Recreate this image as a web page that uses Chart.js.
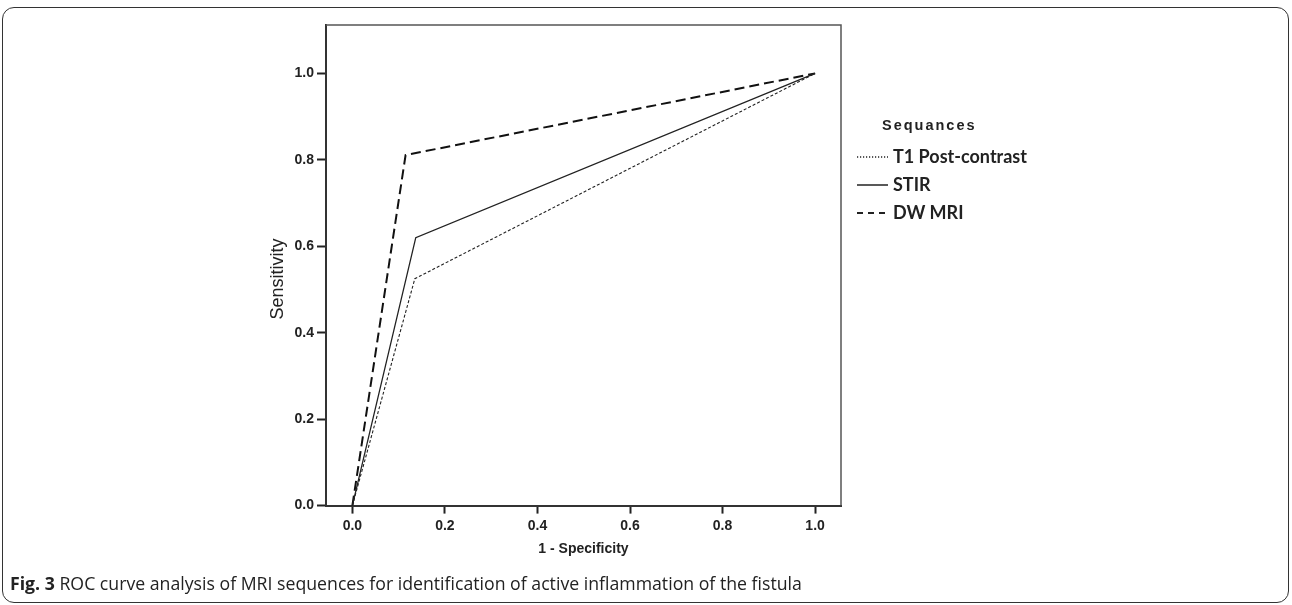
<!DOCTYPE html>
<html>
<head>
<meta charset="utf-8">
<script src="https://cdn.jsdelivr.net/npm/chart.js@4/dist/chart.umd.min.js"></script>
<style>
  html, body { margin: 0; padding: 0; background: #fff; }
  #wrap { position: relative; width: 1292px; height: 605px; overflow: hidden; background: #fff; }
  #frame { position: absolute; left: 2px; top: 7px; width: 1285px; height: 594px; border: 1.5px solid #333; border-radius: 12px; }
  canvas { position: absolute; left: 0; top: 0; }
  #legend { position: absolute; left: 857px; top: 112px; font-family: Lato, "Open Sans", sans-serif; color: #222; }
  #legend .title { position: absolute; left: 25px; top: 0; font: bold 14.5px "Liberation Sans", Arial, sans-serif; letter-spacing: 2px; white-space: nowrap; line-height: 26px; }
  #legend .item { position: absolute; left: 0; white-space: nowrap; font-weight: bold; font-size: 18px; line-height: 20px; height: 20px; }
  #legend .item svg { display: inline-block; vertical-align: middle; margin-right: 5px; position: relative; top: -1px; }
  #caption { position: absolute; left: 10px; top: 571px; font-family: "Open Sans", "Noto Sans", sans-serif; font-size: 17.7px; line-height: 24px; color: #222; white-space: nowrap; }
</style>
</head>
<body>
<div id="wrap">
  <div id="frame"></div>
  <canvas id="c" width="1292" height="605"></canvas>
  <div id="legend"></div>
  <div id="caption"><b>Fig. 3</b> ROC curve analysis of MRI sequences for identification of active inflammation of the fistula</div>
</div>
<script>
// ---- data ----
const seriesNames = ["T1 Post-contrast", "STIR", "DW MRI"];
const t1X = [0, 0.135, 1];
const t1Y = [0, 0.525, 1];
const stirX = [0, 0.137, 1];
const stirY = [0, 0.62, 1];
const dwX = [0, 0.115, 1];
const dwY = [0, 0.811, 1];
const tickValues = [0, 0.2, 0.4, 0.6, 0.8, 1.0];
const xTitle = "1 - Specificity";
const yTitle = "Sensitivity";
const legendTitle = "Sequances";

const pts = (xs, ys) => xs.map((x, i) => ({ x: x, y: ys[i] }));
const styles = [
  { borderColor: '#222', borderWidth: 1.1, borderDash: [3, 2] },
  { borderColor: '#222', borderWidth: 1.3, borderDash: [] },
  { borderColor: '#111', borderWidth: 2, borderDash: [10, 5] }
];
const series = [pts(t1X, t1Y), pts(stirX, stirY), pts(dwX, dwY)];

const framePlugin = {
  id: 'frameLines',
  afterDraw(chart) {
    const { ctx, chartArea: a } = chart;
    ctx.save();
    ctx.strokeStyle = '#555';
    ctx.lineWidth = 1.5;
    ctx.beginPath();
    ctx.moveTo(a.left, a.top);
    ctx.lineTo(a.right, a.top);
    ctx.lineTo(a.right, a.bottom);
    ctx.stroke();
    // y-axis title (SPSS places it slightly below the axis centre)
    ctx.translate(278, 279);
    ctx.rotate(-Math.PI / 2);
    ctx.fillStyle = '#222';
    ctx.font = '18px "Liberation Sans", Arial, sans-serif';
    ctx.textAlign = 'center';
    ctx.textBaseline = 'middle';
    ctx.fillText(yTitle, 0, 0);
    ctx.restore();
  }
};

const tickFont = { family: '"Liberation Sans", Arial, sans-serif', size: 14, weight: 'bold' };

new Chart(document.getElementById('c'), {
  type: 'scatter',
  data: {
    datasets: series.map((d, i) => Object.assign({
      label: seriesNames[i],
      data: d,
      showLine: true,
      fill: false,
      pointRadius: 0,
      pointHoverRadius: 0,
      tension: 0
    }, styles[i]))
  },
  options: {
    responsive: false,
    devicePixelRatio: 1,
    animation: false,
    layout: { padding: { left: 226, top: 25, right: 451, bottom: 0 } },
    plugins: { legend: { display: false }, tooltip: { enabled: false } },
    scales: {
      x: {
        type: 'linear',
        min: -0.057,
        max: 1.056,
        afterBuildTicks: s => { s.ticks = tickValues.map(v => ({ value: v })); },
        afterFit: s => { s.height = 99.4; },
        ticks: { font: tickFont, color: '#222', padding: 4, callback: v => v.toFixed(1), maxRotation: 0 },
        grid: { drawOnChartArea: false, drawTicks: true, tickLength: 8, tickWidth: 2, tickColor: '#222' },
        border: { color: '#333', width: 2 },
        title: { display: true, text: xTitle, color: '#222', font: { family: '"Liberation Sans", Arial, sans-serif', size: 14, weight: 'bold' }, padding: { top: 0, bottom: 47 } }
      },
      y: {
        type: 'linear',
        min: 0,
        max: 1.112,
        afterBuildTicks: s => { s.ticks = tickValues.map(v => ({ value: v })); },
        afterFit: s => { s.width = 100; },
        ticks: { font: tickFont, color: '#222', padding: 3, callback: v => v.toFixed(1) },
        grid: { drawOnChartArea: false, drawTicks: true, tickLength: 9, tickWidth: 2, tickColor: '#222' },
        border: { color: '#333', width: 2 },
        title: { display: false }
      }
    }
  },
  plugins: [framePlugin]
});

// ---- HTML legend ----
const lg = document.getElementById('legend');
const t = document.createElement('div');
t.className = 'title';
t.textContent = legendTitle;
lg.appendChild(t);
const swDash = ['1.2 1.8', '', '6 5'];
const swWidth = [1.3, 1.5, 2];
const itemTops = [34, 62, 90];
seriesNames.forEach((n, i) => {
  const it = document.createElement('div');
  it.className = 'item';
  it.style.top = itemTops[i] + 'px';
  const ns = 'http://www.w3.org/2000/svg';
  const svg = document.createElementNS(ns, 'svg');
  svg.setAttribute('width', '31');
  svg.setAttribute('height', '6');
  const ln = document.createElementNS(ns, 'line');
  ln.setAttribute('x1', '0'); ln.setAttribute('x2', '31');
  ln.setAttribute('y1', '3'); ln.setAttribute('y2', '3');
  ln.setAttribute('stroke', '#222');
  ln.setAttribute('stroke-width', swWidth[i]);
  if (swDash[i]) ln.setAttribute('stroke-dasharray', swDash[i]);
  svg.appendChild(ln);
  it.appendChild(svg);
  it.appendChild(document.createTextNode(n));
  lg.appendChild(it);
});
</script>
</body>
</html>
